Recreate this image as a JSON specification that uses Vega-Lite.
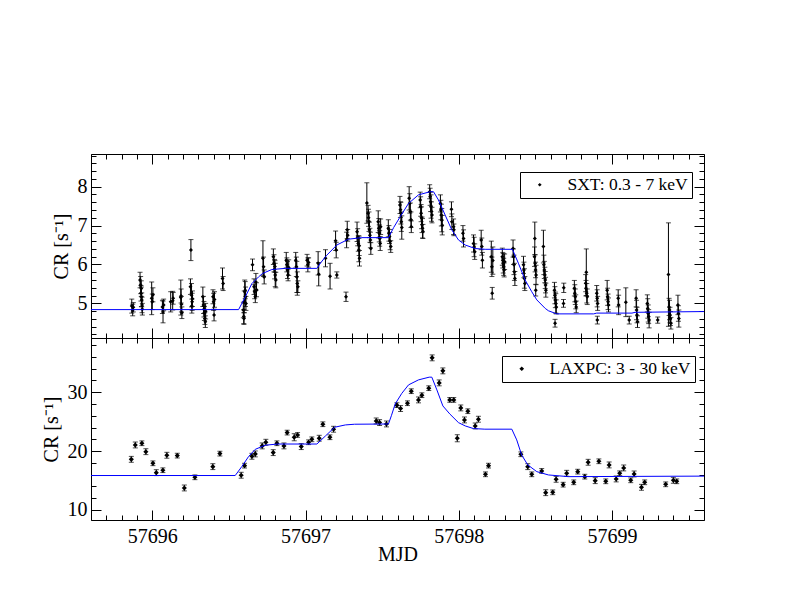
{
"$schema": "https://vega.github.io/schema/vega-lite/v6.json",
"autosize": {"type": "pad"},
"padding": {"left": 40, "top": 153, "right": 0, "bottom": 0},
"background": "white",
"spacing": 0,
"bounds": "flush",
"datasets": {
"sxt": [
{"t":57695.866,"c":4.93,"e":0.18},{"t":57695.872,"c":4.83,"e":0.15},{"t":57695.876,"c":4.90,"e":0.12},
{"t":57695.920,"c":5.60,"e":0.20},{"t":57695.924,"c":5.47,"e":0.22},{"t":57695.926,"c":5.26,"e":0.20},{"t":57695.929,"c":5.17,"e":0.25},{"t":57695.931,"c":5.09,"e":0.18},{"t":57695.933,"c":4.96,"e":0.20},{"t":57695.935,"c":4.85,"e":0.15},{"t":57695.928,"c":5.38,"e":0.20},
{"t":57695.996,"c":5.13,"e":0.42},{"t":57696.000,"c":5.04,"e":0.20},{"t":57696.004,"c":5.22,"e":0.18},
{"t":57696.066,"c":4.91,"e":0.17},{"t":57696.070,"c":4.78,"e":0.28},{"t":57696.074,"c":4.96,"e":0.15},
{"t":57696.120,"c":5.04,"e":0.26},{"t":57696.133,"c":5.07,"e":0.24},{"t":57696.136,"c":5.13,"e":0.15},
{"t":57696.186,"c":5.15,"e":0.45},{"t":57696.190,"c":4.98,"e":0.20},{"t":57696.193,"c":4.76,"e":0.15},{"t":57696.188,"c":5.19,"e":0.18},
{"t":57696.252,"c":6.37,"e":0.27},{"t":57696.249,"c":5.43,"e":0.20},{"t":57696.256,"c":5.21,"e":0.30},{"t":57696.260,"c":5.04,"e":0.22},{"t":57696.258,"c":4.93,"e":0.18},{"t":57696.262,"c":5.12,"e":0.20},
{"t":57696.330,"c":5.17,"e":0.25},{"t":57696.334,"c":4.96,"e":0.22},{"t":57696.337,"c":4.85,"e":0.20},{"t":57696.340,"c":4.74,"e":0.18},{"t":57696.343,"c":4.61,"e":0.15},{"t":57696.346,"c":4.53,"e":0.15},{"t":57696.348,"c":4.80,"e":0.20},
{"t":57696.396,"c":5.17,"e":0.18},{"t":57696.400,"c":5.04,"e":0.22},{"t":57696.403,"c":4.70,"e":0.15},{"t":57696.406,"c":5.10,"e":0.20},
{"t":57696.458,"c":5.64,"e":0.27},{"t":57696.462,"c":5.51,"e":0.18},
{"t":57696.594,"c":4.83,"e":0.20},{"t":57696.597,"c":4.66,"e":0.18},{"t":57696.600,"c":5.04,"e":0.28},{"t":57696.603,"c":5.30,"e":0.30},{"t":57696.606,"c":5.34,"e":0.22},{"t":57696.608,"c":5.17,"e":0.25},{"t":57696.611,"c":5.00,"e":0.18},{"t":57696.598,"c":4.61,"e":0.15},
{"t":57696.654,"c":5.99,"e":0.15},
{"t":57696.664,"c":5.43,"e":0.20},{"t":57696.668,"c":5.30,"e":0.18},{"t":57696.672,"c":5.17,"e":0.15},{"t":57696.676,"c":5.55,"e":0.22},{"t":57696.680,"c":5.35,"e":0.18},
{"t":57696.722,"c":6.16,"e":0.45},{"t":57696.726,"c":5.94,"e":0.25},{"t":57696.730,"c":5.68,"e":0.18},
{"t":57696.790,"c":6.20,"e":0.20},{"t":57696.794,"c":6.03,"e":0.22},{"t":57696.798,"c":5.88,"e":0.25},{"t":57696.802,"c":5.73,"e":0.30},{"t":57696.806,"c":5.60,"e":0.20},{"t":57696.800,"c":5.95,"e":0.15},
{"t":57696.874,"c":6.11,"e":0.20},{"t":57696.878,"c":5.99,"e":0.18},{"t":57696.882,"c":5.86,"e":0.22},{"t":57696.886,"c":5.73,"e":0.15},{"t":57696.890,"c":5.92,"e":0.20},
{"t":57696.936,"c":6.11,"e":0.20},{"t":57696.940,"c":5.94,"e":0.25},{"t":57696.943,"c":5.68,"e":0.40},{"t":57696.946,"c":5.51,"e":0.30},{"t":57696.950,"c":5.43,"e":0.15},
{"t":57697.010,"c":6.11,"e":0.15},{"t":57697.015,"c":5.99,"e":0.18},{"t":57697.020,"c":6.05,"e":0.12},
{"t":57697.082,"c":6.03,"e":0.30},{"t":57697.086,"c":5.75,"e":0.30},
{"t":57697.130,"c":6.16,"e":0.22},
{"t":57697.160,"c":5.70,"e":0.33},
{"t":57697.196,"c":6.61,"e":0.25},{"t":57697.200,"c":6.37,"e":0.20},{"t":57697.204,"c":5.73,"e":0.08},
{"t":57697.264,"c":5.17,"e":0.12},{"t":57697.268,"c":6.63,"e":0.20},{"t":57697.272,"c":6.89,"e":0.22},{"t":57697.275,"c":6.75,"e":0.15},
{"t":57697.336,"c":6.84,"e":0.25},{"t":57697.340,"c":6.70,"e":0.22},{"t":57697.344,"c":6.54,"e":0.20},{"t":57697.348,"c":6.37,"e":0.30},{"t":57697.352,"c":6.16,"e":0.20},{"t":57697.350,"c":6.48,"e":0.25},
{"t":57697.400,"c":7.58,"e":0.52},{"t":57697.408,"c":7.32,"e":0.20},{"t":57697.411,"c":7.20,"e":0.22},{"t":57697.414,"c":7.10,"e":0.25},{"t":57697.417,"c":6.89,"e":0.20},{"t":57697.420,"c":6.75,"e":0.18},{"t":57697.423,"c":6.63,"e":0.20},{"t":57697.426,"c":6.41,"e":0.15},
{"t":57697.474,"c":7.10,"e":0.28},{"t":57697.478,"c":6.93,"e":0.25},{"t":57697.481,"c":6.80,"e":0.22},{"t":57697.484,"c":6.67,"e":0.20},{"t":57697.487,"c":6.54,"e":0.18},{"t":57697.490,"c":6.97,"e":0.20},
{"t":57697.540,"c":6.93,"e":0.22},{"t":57697.544,"c":6.80,"e":0.20},{"t":57697.548,"c":6.72,"e":0.18},{"t":57697.552,"c":6.60,"e":0.22},{"t":57697.556,"c":6.46,"e":0.15},
{"t":57697.616,"c":7.53,"e":0.22},{"t":57697.619,"c":7.41,"e":0.20},{"t":57697.622,"c":7.32,"e":0.28},{"t":57697.625,"c":7.10,"e":0.25},{"t":57697.628,"c":6.95,"e":0.30},
{"t":57697.676,"c":7.70,"e":0.30},{"t":57697.680,"c":7.57,"e":0.25},{"t":57697.684,"c":7.36,"e":0.22},{"t":57697.688,"c":7.15,"e":0.20},{"t":57697.690,"c":6.97,"e":0.15},
{"t":57697.748,"c":7.66,"e":0.20},{"t":57697.751,"c":7.49,"e":0.25},{"t":57697.754,"c":7.32,"e":0.22},{"t":57697.757,"c":7.20,"e":0.28},{"t":57697.760,"c":7.02,"e":0.20},{"t":57697.763,"c":6.93,"e":0.25},{"t":57697.766,"c":6.85,"e":0.18},
{"t":57697.810,"c":7.87,"e":0.18},{"t":57697.813,"c":7.74,"e":0.22},{"t":57697.816,"c":7.61,"e":0.25},{"t":57697.819,"c":7.49,"e":0.30},{"t":57697.822,"c":7.36,"e":0.25},{"t":57697.825,"c":7.27,"e":0.20},
{"t":57697.880,"c":7.57,"e":0.22},{"t":57697.883,"c":7.40,"e":0.25},{"t":57697.886,"c":7.27,"e":0.28},{"t":57697.889,"c":7.14,"e":0.30},{"t":57697.892,"c":7.01,"e":0.25},
{"t":57697.952,"c":7.42,"e":0.19},{"t":57697.955,"c":7.10,"e":0.20},{"t":57697.966,"c":6.97,"e":0.20},{"t":57697.968,"c":6.89,"e":0.15},
{"t":57698.027,"c":6.80,"e":0.20},{"t":57698.031,"c":6.67,"e":0.22},
{"t":57698.096,"c":6.54,"e":0.22},{"t":57698.100,"c":6.45,"e":0.25},{"t":57698.104,"c":6.33,"e":0.20},
{"t":57698.146,"c":6.63,"e":0.25},{"t":57698.150,"c":6.46,"e":0.22},{"t":57698.154,"c":6.11,"e":0.20},
{"t":57698.212,"c":6.20,"e":0.40},{"t":57698.216,"c":5.94,"e":0.25},{"t":57698.218,"c":5.26,"e":0.15},{"t":57698.222,"c":6.10,"e":0.35},
{"t":57698.284,"c":6.20,"e":0.22},{"t":57698.287,"c":6.11,"e":0.20},{"t":57698.290,"c":6.03,"e":0.25},{"t":57698.293,"c":5.94,"e":0.22},{"t":57698.296,"c":5.86,"e":0.18},{"t":57698.299,"c":6.07,"e":0.20},
{"t":57698.354,"c":6.41,"e":0.22},{"t":57698.357,"c":6.20,"e":0.20},{"t":57698.360,"c":5.99,"e":0.25},{"t":57698.363,"c":5.81,"e":0.22},{"t":57698.366,"c":5.64,"e":0.18},
{"t":57698.422,"c":5.99,"e":0.22},{"t":57698.425,"c":5.86,"e":0.20},{"t":57698.428,"c":5.64,"e":0.25},{"t":57698.431,"c":5.51,"e":0.18},
{"t":57698.496,"c":6.67,"e":0.42},{"t":57698.494,"c":6.20,"e":0.25},{"t":57698.498,"c":6.03,"e":0.22},{"t":57698.501,"c":5.86,"e":0.20},{"t":57698.504,"c":5.73,"e":0.25},{"t":57698.502,"c":5.34,"e":0.15},
{"t":57698.552,"c":6.46,"e":0.42},{"t":57698.555,"c":5.99,"e":0.25},{"t":57698.558,"c":5.86,"e":0.22},{"t":57698.561,"c":5.73,"e":0.20},{"t":57698.564,"c":5.60,"e":0.22},{"t":57698.566,"c":5.47,"e":0.20},{"t":57698.568,"c":5.34,"e":0.18},
{"t":57698.624,"c":5.34,"e":0.20},{"t":57698.627,"c":5.21,"e":0.22},{"t":57698.630,"c":5.09,"e":0.20},{"t":57698.633,"c":5.00,"e":0.25},{"t":57698.636,"c":4.91,"e":0.18},{"t":57698.628,"c":4.49,"e":0.10},
{"t":57698.683,"c":5.00,"e":0.10},{"t":57698.685,"c":5.40,"e":0.12},
{"t":57698.754,"c":5.39,"e":0.20},{"t":57698.757,"c":5.26,"e":0.22},{"t":57698.760,"c":5.17,"e":0.20},{"t":57698.763,"c":5.04,"e":0.18},{"t":57698.766,"c":4.91,"e":0.15},
{"t":57698.832,"c":5.80,"e":0.60},{"t":57698.828,"c":5.52,"e":0.22},{"t":57698.830,"c":5.39,"e":0.20},{"t":57698.835,"c":5.26,"e":0.25},{"t":57698.838,"c":5.17,"e":0.20},
{"t":57698.900,"c":5.26,"e":0.20},{"t":57698.903,"c":5.13,"e":0.22},{"t":57698.906,"c":5.00,"e":0.18},{"t":57698.904,"c":4.57,"e":0.10},
{"t":57698.968,"c":5.34,"e":0.25},{"t":57698.971,"c":5.17,"e":0.22},{"t":57698.974,"c":5.04,"e":0.20},{"t":57698.977,"c":4.96,"e":0.18},
{"t":57699.040,"c":5.13,"e":0.22},{"t":57699.043,"c":4.96,"e":0.25},
{"t":57699.090,"c":5.03,"e":0.37},{"t":57699.112,"c":4.57,"e":0.10},
{"t":57699.157,"c":5.13,"e":0.22},{"t":57699.160,"c":4.83,"e":0.25},{"t":57699.163,"c":4.70,"e":0.20},{"t":57699.166,"c":4.53,"e":0.15},
{"t":57699.230,"c":5.00,"e":0.22},{"t":57699.233,"c":4.87,"e":0.25},{"t":57699.236,"c":4.74,"e":0.22},{"t":57699.239,"c":4.66,"e":0.18},{"t":57699.242,"c":4.57,"e":0.20},
{"t":57699.298,"c":4.57,"e":0.08},
{"t":57699.368,"c":5.74,"e":1.33},{"t":57699.372,"c":4.91,"e":0.22},{"t":57699.375,"c":4.83,"e":0.25},{"t":57699.378,"c":4.70,"e":0.20},{"t":57699.381,"c":4.61,"e":0.18},{"t":57699.384,"c":4.49,"e":0.15},
{"t":57699.430,"c":4.96,"e":0.25},{"t":57699.433,"c":4.74,"e":0.20},{"t":57699.436,"c":4.61,"e":0.22}
],
"laxpc": [
{"t":57695.863,"c":18.6,"e":0.5},{"t":57695.889,"c":21.04,"e":0.5},{"t":57695.932,"c":21.33,"e":0.4},{"t":57695.958,"c":19.9,"e":0.5},
{"t":57696.004,"c":17.93,"e":0.4},{"t":57696.026,"c":16.34,"e":0.5},{"t":57696.069,"c":16.75,"e":0.4},{"t":57696.095,"c":19.29,"e":0.5},
{"t":57696.163,"c":19.23,"e":0.4},{"t":57696.209,"c":13.74,"e":0.5},{"t":57696.278,"c":15.55,"e":0.4},{"t":57696.395,"c":17.36,"e":0.5},
{"t":57696.441,"c":19.57,"e":0.4},{"t":57696.58,"c":15.9,"e":0.5},{"t":57696.602,"c":17.53,"e":0.4},{"t":57696.65,"c":19.12,"e":0.5},
{"t":57696.672,"c":19.52,"e":0.5},{"t":57696.717,"c":20.88,"e":0.5},{"t":57696.741,"c":21.5,"e":0.5},{"t":57696.789,"c":19.74,"e":0.5},
{"t":57696.813,"c":21.33,"e":0.4},{"t":57696.859,"c":20.88,"e":0.5},{"t":57696.88,"c":23.14,"e":0.4},{"t":57696.926,"c":22.35,"e":0.6},
{"t":57696.948,"c":22.74,"e":0.4},{"t":57696.972,"c":20.76,"e":0.5},{"t":57697.02,"c":21.5,"e":0.4},{"t":57697.041,"c":22.0,"e":0.4},
{"t":57697.089,"c":22.18,"e":0.5},{"t":57697.113,"c":24.56,"e":0.4},{"t":57697.159,"c":22.35,"e":0.4},{"t":57697.183,"c":23.71,"e":0.5},
{"t":57697.461,"c":25.12,"e":0.5},{"t":57697.483,"c":24.84,"e":0.5},{"t":57697.528,"c":24.61,"e":0.5},{"t":57697.596,"c":27.8,"e":0.4},
{"t":57697.62,"c":27.22,"e":0.5},{"t":57697.665,"c":28.13,"e":0.4},{"t":57697.69,"c":30.17,"e":0.4},{"t":57697.737,"c":28.69,"e":0.5},
{"t":57697.759,"c":29.49,"e":0.4},{"t":57697.804,"c":30.68,"e":0.4},{"t":57697.826,"c":35.83,"e":0.5},{"t":57697.872,"c":31.58,"e":0.5},
{"t":57697.896,"c":33.62,"e":0.5},{"t":57697.941,"c":28.69,"e":0.4},{"t":57697.967,"c":28.69,"e":0.4},{"t":57697.99,"c":22.18,"e":0.6},
{"t":57698.013,"c":27.33,"e":0.5},{"t":57698.037,"c":25.29,"e":0.5},{"t":57698.059,"c":26.77,"e":0.4},{"t":57698.107,"c":24.27,"e":0.5},
{"t":57698.128,"c":25.41,"e":0.5},{"t":57698.174,"c":16.06,"e":0.4},{"t":57698.194,"c":17.53,"e":0.4},{"t":57698.405,"c":19.46,"e":0.4},
{"t":57698.45,"c":17.36,"e":0.5},{"t":57698.476,"c":16.06,"e":0.4},{"t":57698.541,"c":16.63,"e":0.4},{"t":57698.567,"c":12.94,"e":0.5},
{"t":57698.613,"c":13.0,"e":0.4},{"t":57698.635,"c":15.21,"e":0.5},{"t":57698.681,"c":14.3,"e":0.4},{"t":57698.704,"c":16.23,"e":0.5},
{"t":57698.75,"c":14.7,"e":0.4},{"t":57698.776,"c":16.51,"e":0.4},{"t":57698.822,"c":15.66,"e":0.4},{"t":57698.844,"c":18.1,"e":0.5},
{"t":57698.89,"c":14.98,"e":0.5},{"t":57698.914,"c":18.27,"e":0.4},{"t":57698.959,"c":14.87,"e":0.4},{"t":57698.981,"c":17.65,"e":0.5},
{"t":57699.027,"c":15.27,"e":0.5},{"t":57699.05,"c":16.23,"e":0.4},{"t":57699.076,"c":17.14,"e":0.5},{"t":57699.122,"c":15.04,"e":0.4},
{"t":57699.144,"c":16.12,"e":0.5},{"t":57699.192,"c":13.85,"e":0.5},{"t":57699.213,"c":14.7,"e":0.4},{"t":57699.35,"c":14.36,"e":0.4},
{"t":57699.40,"c":15.04,"e":0.5},{"t":57699.422,"c":14.87,"e":0.4}
],
"msxt": [
{"t":57695.6,"m":4.84},{"t":57696.563,"m":4.84},{"t":57696.607,"m":5.17},{"t":57696.65,"m":5.51},{"t":57696.693,"m":5.68},
{"t":57696.72,"m":5.77},{"t":57696.78,"m":5.87},{"t":57696.868,"m":5.90},{"t":57697.074,"m":5.90},{"t":57697.10,"m":6.05},
{"t":57697.139,"m":6.24},{"t":57697.204,"m":6.50},{"t":57697.28,"m":6.65},{"t":57697.367,"m":6.69},{"t":57697.541,"m":6.69},
{"t":57697.575,"m":6.95},{"t":57697.618,"m":7.23},{"t":57697.672,"m":7.57},{"t":57697.737,"m":7.79},{"t":57697.813,"m":7.87},
{"t":57697.835,"m":7.87},{"t":57697.867,"m":7.66},{"t":57697.911,"m":7.27},{"t":57697.954,"m":6.89},{"t":57697.998,"m":6.63},
{"t":57698.042,"m":6.50},{"t":57698.107,"m":6.41},{"t":57698.172,"m":6.39},{"t":57698.35,"m":6.39},{"t":57698.389,"m":6.03},
{"t":57698.433,"m":5.60},{"t":57698.476,"m":5.30},{"t":57698.509,"m":5.09},{"t":57698.564,"m":4.87},{"t":57698.585,"m":4.81},
{"t":57698.639,"m":4.73},{"t":57698.88,"m":4.73},{"t":57698.90,"m":4.75},{"t":57699.13,"m":4.75},{"t":57699.15,"m":4.77},{"t":57699.6,"m":4.79}
],
"mlaxpc": [
{"t":57695.6,"m":15.85},{"t":57696.541,"m":15.85},{"t":57696.585,"m":17.4},{"t":57696.628,"m":19.06},{"t":57696.672,"m":20.3},
{"t":57696.737,"m":21.0},{"t":57696.82,"m":21.2},{"t":57697.074,"m":21.2},{"t":57697.13,"m":22.57},{"t":57697.19,"m":24.05},
{"t":57697.26,"m":24.44},{"t":57697.32,"m":24.56},{"t":57697.541,"m":24.6},{"t":57697.56,"m":26.0},{"t":57697.585,"m":28.0},
{"t":57697.628,"m":29.8},{"t":57697.672,"m":31.24},{"t":57697.737,"m":32.09},{"t":57697.807,"m":32.55},{"t":57697.824,"m":32.55},
{"t":57697.857,"m":30.39},{"t":57697.896,"m":27.67},{"t":57697.941,"m":26.31},{"t":57697.998,"m":24.83},{"t":57698.042,"m":24.27},
{"t":57698.096,"m":23.82},{"t":57698.17,"m":23.72},{"t":57698.346,"m":23.72},{"t":57698.378,"m":21.9},{"t":57698.41,"m":19.35},
{"t":57698.45,"m":17.65},{"t":57698.509,"m":16.51},{"t":57698.585,"m":15.95},{"t":57698.715,"m":15.66},{"t":57699.6,"m":15.75}
]
},
"resolve": {"scale": {"x": "independent", "y": "independent", "color": "independent"}, "legend": {"color": "independent"}},
"vconcat": [
{
"width": 613, "height": 184,
"resolve": {"axis": {"x": "independent", "y": "independent"}},
"layer": [
{"data": {"name": "sxt"}, "mark": {"type": "errorbar", "ticks": {"size": 5}, "color": "black", "thickness": 1},
 "encoding": {
  "x": {"field": "t", "type": "quantitative", "scale": {"domain": [57695.6, 57699.6], "nice": false, "zero": false}, "axis": null},
  "y": {"field": "c", "type": "quantitative", "scale": {"domain": [4.11, 8.84], "nice": false, "zero": false}, "axis": null},
  "yError": {"field": "e"}}},
{"data": {"name": "sxt"}, "mark": {"type": "point", "shape": "diamond", "filled": true, "size": 16, "opacity": 1},
 "encoding": {
  "x": {"field": "t", "type": "quantitative", "axis": {"orient": "bottom", "values": [57696, 57697, 57698, 57699], "tickSize": -10, "labels": false, "title": null}},
  "y": {"field": "c", "type": "quantitative", "axis": {"orient": "left", "values": [5, 6, 7, 8], "tickSize": -10, "labels": false, "title": null}},
  "color": {"datum": "SXT: 0.3 - 7 keV", "type": "nominal", "scale": {"range": ["black"]},
   "legend": {"orient": "none", "legendX": 429, "legendY": 18, "title": null, "strokeColor": "black", "fillColor": "white", "padding": 4, "cornerRadius": 0, "symbolType": "diamond", "symbolSize": 14, "symbolOffset": 7, "labelOffset": 19, "labelFontSize": 17.5, "labelFont": "Liberation Serif", "labelColor": "black", "symbolStrokeWidth": 0}}}},
{"data": {"name": "msxt"}, "mark": {"type": "line", "color": "#0000ff", "strokeWidth": 1},
 "encoding": {
  "x": {"field": "t", "type": "quantitative", "axis": {"orient": "bottom", "values": [57695.6,57695.7,57695.8,57695.9,57696,57696.1,57696.2,57696.3,57696.4,57696.5,57696.6,57696.7,57696.8,57696.9,57697,57697.1,57697.2,57697.3,57697.4,57697.5,57697.6,57697.7,57697.8,57697.9,57698,57698.1,57698.2,57698.3,57698.4,57698.5,57698.6,57698.7,57698.8,57698.9,57699,57699.1,57699.2,57699.3,57699.4,57699.5,57699.6], "tickSize": -5, "labels": false, "title": null}},
  "y": {"field": "m", "type": "quantitative", "axis": {"orient": "left", "values": [4.2,4.4,4.6,4.8,5,5.2,5.4,5.6,5.8,6,6.2,6.4,6.6,6.8,7,7.2,7.4,7.6,7.8,8,8.2,8.4,8.6,8.8], "tickSize": -5, "labels": false, "title": null}}}},
{"data": {"name": "msxt"}, "mark": {"type": "point", "opacity": 0},
 "encoding": {
  "x": {"field": "t", "type": "quantitative", "axis": {"orient": "top", "values": [57696, 57697, 57698, 57699], "tickSize": -10, "labels": false, "title": null}},
  "y": {"field": "m", "type": "quantitative", "axis": {"orient": "right", "values": [5, 6, 7, 8], "tickSize": -10, "labels": false, "title": null}}}},
{"data": {"name": "msxt"}, "mark": {"type": "point", "opacity": 0},
 "encoding": {
  "x": {"field": "t", "type": "quantitative", "axis": {"orient": "top", "values": [57695.6,57695.7,57695.8,57695.9,57696,57696.1,57696.2,57696.3,57696.4,57696.5,57696.6,57696.7,57696.8,57696.9,57697,57697.1,57697.2,57697.3,57697.4,57697.5,57697.6,57697.7,57697.8,57697.9,57698,57698.1,57698.2,57698.3,57698.4,57698.5,57698.6,57698.7,57698.8,57698.9,57699,57699.1,57699.2,57699.3,57699.4,57699.5,57699.6], "tickSize": -5, "labels": false, "title": null}},
  "y": {"field": "m", "type": "quantitative", "axis": {"orient": "right", "values": [4.2,4.4,4.6,4.8,5,5.2,5.4,5.6,5.8,6,6.2,6.4,6.6,6.8,7,7.2,7.4,7.6,7.8,8,8.2,8.4,8.6,8.8], "tickSize": -5, "labels": false, "title": null}}}},
{"data": {"name": "msxt"}, "mark": {"type": "point", "opacity": 0},
 "encoding": {
  "x": {"field": "t", "type": "quantitative", "axis": null},
  "y": {"field": "m", "type": "quantitative", "axis": {"orient": "left", "values": [5, 6, 7, 8], "ticks": false, "labelPadding": 4, "title": "CR [s⁻¹]", "titlePadding": 6}}}}
]
},
{
"width": 613, "height": 182,
"resolve": {"axis": {"x": "independent", "y": "independent"}},
"layer": [
{"data": {"name": "laxpc"}, "mark": {"type": "errorbar", "ticks": {"size": 5}, "color": "black", "thickness": 1},
 "encoding": {
  "x": {"field": "t", "type": "quantitative", "scale": {"domain": [57695.6, 57699.6], "nice": false, "zero": false}, "axis": null},
  "y": {"field": "c", "type": "quantitative", "scale": {"domain": [8.3, 39.2], "nice": false, "zero": false}, "axis": null},
  "yError": {"field": "e"}}},
{"data": {"name": "laxpc"}, "mark": {"type": "point", "shape": "diamond", "filled": true, "size": 26, "opacity": 1},
 "encoding": {
  "x": {"field": "t", "type": "quantitative", "axis": {"orient": "bottom", "values": [57696, 57697, 57698, 57699], "tickSize": -10, "labels": false, "title": null}},
  "y": {"field": "c", "type": "quantitative", "axis": {"orient": "left", "values": [10, 20, 30], "tickSize": -10, "labels": false, "title": null}},
  "color": {"datum": "LAXPC: 3 - 30 keV", "type": "nominal", "scale": {"range": ["black"]},
   "legend": {"orient": "none", "legendX": 411, "legendY": 18, "title": null, "strokeColor": "black", "fillColor": "white", "padding": 4, "cornerRadius": 0, "symbolType": "diamond", "symbolSize": 22, "symbolOffset": 7, "labelOffset": 19, "labelFontSize": 17.5, "labelFont": "Liberation Serif", "labelColor": "black", "symbolStrokeWidth": 0}}}},
{"data": {"name": "mlaxpc"}, "mark": {"type": "line", "color": "#0000ff", "strokeWidth": 1},
 "encoding": {
  "x": {"field": "t", "type": "quantitative", "axis": {"orient": "bottom", "values": [57695.6,57695.7,57695.8,57695.9,57696,57696.1,57696.2,57696.3,57696.4,57696.5,57696.6,57696.7,57696.8,57696.9,57697,57697.1,57697.2,57697.3,57697.4,57697.5,57697.6,57697.7,57697.8,57697.9,57698,57698.1,57698.2,57698.3,57698.4,57698.5,57698.6,57698.7,57698.8,57698.9,57699,57699.1,57699.2,57699.3,57699.4,57699.5,57699.6], "tickSize": -5, "labels": false, "title": null}},
  "y": {"field": "m", "type": "quantitative", "axis": {"orient": "left", "values": [10,12,14,16,18,20,22,24,26,28,30,32,34,36,38], "tickSize": -5, "labels": false, "title": null}}}},
{"data": {"name": "mlaxpc"}, "mark": {"type": "point", "opacity": 0},
 "encoding": {
  "x": {"field": "t", "type": "quantitative", "axis": {"orient": "top", "values": [57696, 57697, 57698, 57699], "tickSize": -10, "labels": false, "title": null}},
  "y": {"field": "m", "type": "quantitative", "axis": {"orient": "right", "values": [10, 20, 30], "tickSize": -10, "labels": false, "title": null}}}},
{"data": {"name": "mlaxpc"}, "mark": {"type": "point", "opacity": 0},
 "encoding": {
  "x": {"field": "t", "type": "quantitative", "axis": {"orient": "top", "values": [57695.6,57695.7,57695.8,57695.9,57696,57696.1,57696.2,57696.3,57696.4,57696.5,57696.6,57696.7,57696.8,57696.9,57697,57697.1,57697.2,57697.3,57697.4,57697.5,57697.6,57697.7,57697.8,57697.9,57698,57698.1,57698.2,57698.3,57698.4,57698.5,57698.6,57698.7,57698.8,57698.9,57699,57699.1,57699.2,57699.3,57699.4,57699.5,57699.6], "tickSize": -5, "labels": false, "title": null}},
  "y": {"field": "m", "type": "quantitative", "axis": {"orient": "right", "values": [10,12,14,16,18,20,22,24,26,28,30,32,34,36,38], "tickSize": -5, "labels": false, "title": null}}}},
{"data": {"name": "mlaxpc"}, "mark": {"type": "point", "opacity": 0},
 "encoding": {
  "x": {"field": "t", "type": "quantitative", "axis": {"orient": "bottom", "values": [57696, 57697, 57698, 57699], "format": "d", "ticks": false, "labelPadding": 6, "title": "MJD", "titlePadding": -2}},
  "y": {"field": "m", "type": "quantitative", "axis": {"orient": "left", "values": [10, 20, 30], "ticks": false, "labelPadding": 4, "title": "CR [s⁻¹]", "titlePadding": 6}}}}
]
}
],
"config": {
 "font": "Liberation Serif",
 "view": {"stroke": "black", "strokeWidth": 1},
 "axis": {"domain": false, "grid": false, "tickColor": "black", "tickWidth": 1, "labelFont": "Liberation Serif", "labelFontSize": 20, "labelColor": "black", "labelFlush": false, "labelOverlap": false, "titleFont": "Liberation Serif", "titleFontSize": 20, "titleFontWeight": "normal", "titleColor": "black"}
}
}
